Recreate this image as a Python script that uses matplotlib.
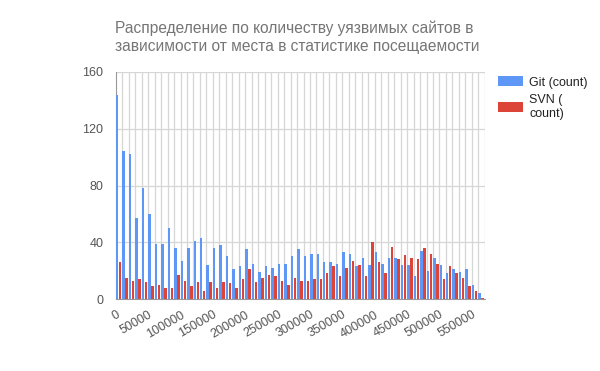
import matplotlib
matplotlib.use("Agg")
import matplotlib.pyplot as plt
import numpy as np

plt.rcParams['font.family'] = ['Liberation Sans', 'DejaVu Sans']

# sites ranked in buckets of 10000, bucket start values
buckets = list(range(0, 570000, 10000))
git = [144, 104, 102, 57, 78, 60, 39, 39, 50, 36,
       27, 36, 41, 43, 24, 36, 38, 30, 21, 23,
       35, 25, 19, 23, 22, 25, 25, 30, 35, 30,
       32, 32, 26, 26, 25, 33, 32, 23, 29, 24,
       33, 25, 29, 29, 24, 24, 16, 34, 20, 29,
       24, 18, 21, 19, 21, 10, 4]
svn = [26, 15, 13, 14, 12, 9, 10, 8, 8, 17,
       13, 9, 12, 6, 12, 8, 12, 11, 8, 14,
       21, 12, 15, 17, 16, 13, 10, 15, 13, 13,
       14, 14, 18, 23, 16, 22, 27, 24, 16, 40,
       26, 18, 37, 28, 31, 29, 28, 36, 32, 25,
       14, 23, 18, 15, 9, 6, 1]
tick_labels = [str(b) for b in buckets[::5]]
series = ["Git (count)", "SVN (\ncount)"]
colors = ["#5e97f6", "#db4437"]

fig = plt.figure(figsize=(6, 3.71), dpi=100)
ax = fig.add_axes([0.193, 0.194, 0.615, 0.612])

x = np.arange(len(buckets))
ax.bar(x + 0.2, git, width=0.38, color=colors[0], label=series[0], zorder=3)
ax.bar(x + 0.66, svn, width=0.38, color=colors[1], label=series[1], zorder=3)

ax.set_xlim(0, len(buckets))
ax.set_ylim(0, 160)
ax.set_yticks([0, 40, 80, 120, 160])
ax.set_xticks(x[::5])
ax.set_xticklabels(tick_labels, rotation=30, ha='right', va='top',
                   rotation_mode='anchor')
ax.tick_params(axis='both', length=0, labelsize=9, colors='#555555')
ax.tick_params(axis='x', pad=7)
ax.tick_params(axis='y', pad=9)

# grid lines at every bucket boundary
for k in range(1, len(buckets) + 1):
    ax.axvline(k, color='#d6d6d6', lw=0.9, zorder=1)
for v in [40, 80, 120, 160]:
    ax.axhline(v, color='#d6d6d6', lw=0.9, zorder=1)

for s in ['top', 'right']:
    ax.spines[s].set_visible(False)
ax.spines['left'].set_color('#999999')
ax.spines['bottom'].set_color('#999999')
ax.spines['bottom'].set_zorder(4)

fig.text(0.192, 0.9, "Распределение по количеству уязвимых сайтов в\n"
         "зависимости от места в статистике посещаемости",
         fontsize=11.2, color='#757575', ha='left', va='center',
         linespacing=1.3)

leg = ax.legend(loc='upper left', bbox_to_anchor=(1.005, 1.03), frameon=False,
                fontsize=9, handlelength=2.0, handleheight=0.85,
                handletextpad=0.5, labelspacing=0.45, labelcolor='#222222')
for t in leg.get_texts():
    t.set_multialignment('left')

fig.savefig("out.png", dpi=100)
